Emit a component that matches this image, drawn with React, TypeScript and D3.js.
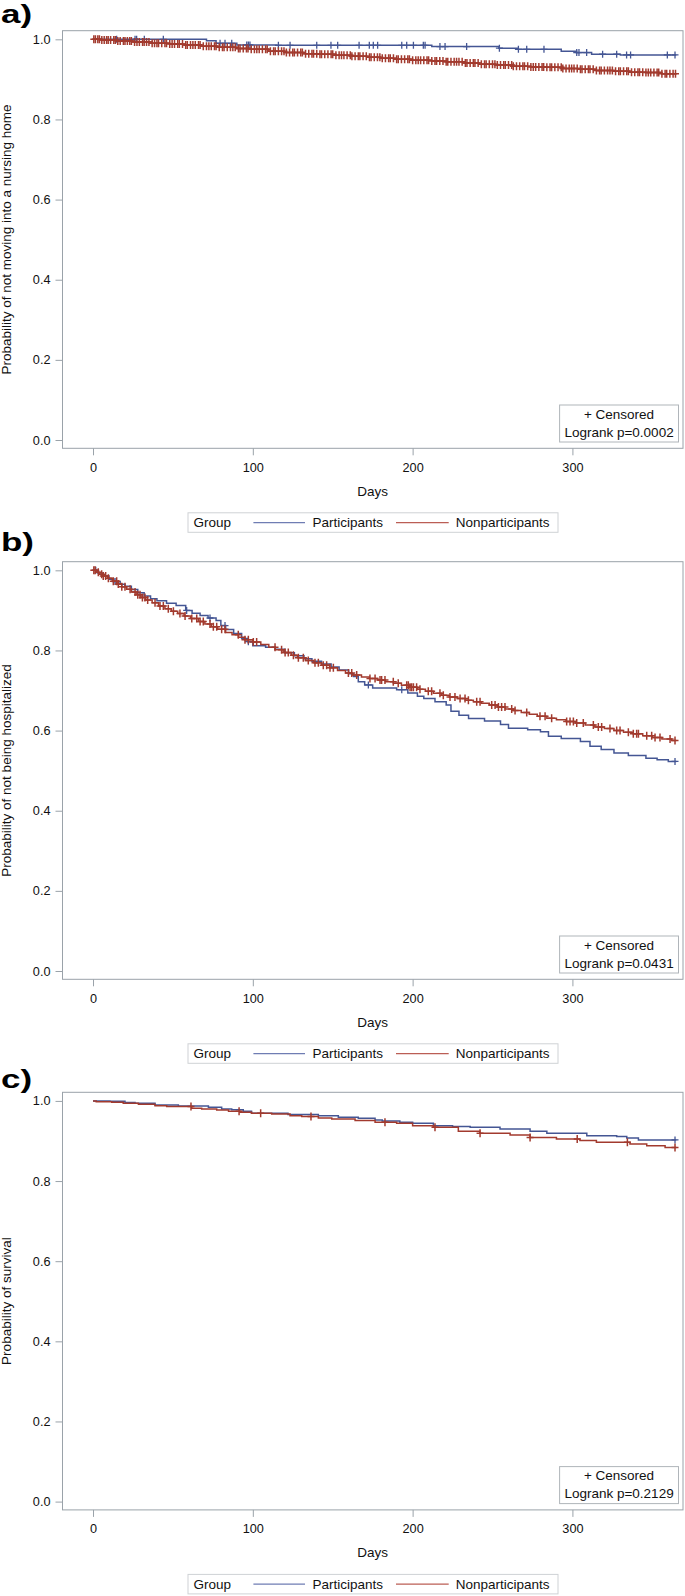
import React, { useRef, useEffect } from 'react';
import * as d3 from 'd3';

// ---- data ----

const FOLLOW_UP_END = 365;

const xTicks = [0, 100, 200, 300];
const yTicks = [0, 0.2, 0.4, 0.6, 0.8, 1.0];
const groups = ['Participants', 'Nonparticipants'];
const groupColors = ['#445694', '#A23A2E'];
const legendColors = ['#6f7db3', '#bb5e55'];

const panelLetters = ['a)', 'b)', 'c)'];
const yLabels = [
  'Probability of not moving into a nursing home',
  'Probability of not being hospitalized',
  'Probability of survival',
];
const logrankP = ['0.0002', '0.0431', '0.2129'];

// a) nursing home – [day, survival] at each step
const nursingParticipants = [
  [0, 1.0], [71, 0.9965], [77, 0.99], [90, 0.986], [115, 0.985], [212, 0.982],
  [254, 0.978], [266, 0.975], [293, 0.97], [302.6, 0.967], [312, 0.963], [330, 0.961],
];
const nursingNonparticipants = [
  [0, 1.0], [5, 0.998], [15, 0.996], [25, 0.993], [37, 0.99], [48, 0.988], [57, 0.986],
  [68, 0.983], [78, 0.98], [90, 0.977], [99, 0.975], [110, 0.97], [120, 0.967],
  [132, 0.964], [141, 0.963], [152, 0.96], [162, 0.958], [172, 0.955], [180, 0.953],
  [190, 0.95], [200, 0.948], [212, 0.946], [221, 0.944], [232, 0.941], [242, 0.938],
  [252, 0.936], [263, 0.933], [274, 0.931], [284, 0.93], [294, 0.927], [305, 0.925],
  [315, 0.922], [326, 0.92], [336, 0.918], [346, 0.917], [356, 0.914],
];
const nursingParticipantsCensored = [
  14.8, 26.3, 27.3, 32.1, 44, 79.5, 82.6, 86.8, 96.2, 97.2, 98.2, 116, 123.3, 140,
  148.9, 153.1, 166.5, 172.9, 175.4, 178.1, 193.2, 196.3, 200.5, 206.7, 207.8, 217.1,
  220.3, 233.8, 254.3, 266.2, 271.4, 282.2, 302.7, 304.1, 308.9, 318.9, 327.7, 333.9,
  336.4, 359.4, 364.2,
];
const nursingNonparticipantsCensored = [
  0.5, 1.5, 3, 4, 5.5, 7, 8.5, 9.5, 11, 13, 14, 15.5, 17, 19, 20, 21.5, 23, 24, 26, 27.5,
  29, 31, 32, 33.5, 35, 37, 38.5, 40, 41, 43, 45, 46, 48, 49.5, 51, 53, 54, 56, 58, 59,
  61, 62.5, 64, 66, 67, 69, 71, 72.5, 74, 76, 77, 79, 81, 82, 84, 86, 87.5, 89, 91, 92,
  94, 96, 97, 99, 101, 102.5, 104, 106, 108, 109, 111, 113, 114, 116, 118, 119.5, 121,
  123, 125, 126, 128, 130, 131, 133, 135, 137, 138, 140, 142, 143, 145, 147, 149, 150,
  152, 154, 155.5, 157, 159, 161, 162, 164, 166, 167, 169, 171, 173, 174, 176, 178,
  179.5, 181, 183, 185, 186, 188, 190, 191, 193, 195, 197, 198, 200, 202, 203.5, 205,
  207, 209, 210, 212, 214, 215, 217, 219, 221, 222, 224, 226, 227.5, 229, 231, 233, 234,
  236, 238, 239, 241, 243, 245, 246, 248, 250, 251.5, 253, 255, 257, 258, 260, 262, 263,
  265, 267, 269, 270, 272, 274, 275.5, 277, 279, 281, 282, 284, 286, 287, 289, 291, 293,
  294, 296, 298, 299.5, 301, 303, 305, 306, 308, 310, 311, 313, 315, 317, 318, 320, 322,
  323.5, 325, 327, 329, 330, 332, 334, 335, 337, 339, 341, 342, 344, 346, 347.5, 349,
  351, 353, 354, 356, 358, 359, 361, 363, 364.5,
];

// b) hospitalization
const hospParticipants = [
  [0, 1.0], [3, 0.993], [6, 0.986], [10, 0.978], [13, 0.972], [17, 0.965], [20, 0.96],
  [24, 0.952], [28, 0.944], [32, 0.936], [36, 0.929], [40, 0.924], [46, 0.918],
  [52, 0.912], [58, 0.9], [62, 0.893], [67, 0.887], [72, 0.881], [77, 0.875], [80, 0.862],
  [83, 0.852], [88, 0.842], [93, 0.83], [97, 0.822], [100, 0.812], [108, 0.808],
  [114, 0.803], [120, 0.794], [126, 0.787], [132, 0.779], [137, 0.773], [143, 0.766],
  [149, 0.759], [154, 0.751], [160, 0.742], [163, 0.735], [166, 0.722], [170, 0.714],
  [175, 0.706], [190, 0.702], [197, 0.694], [203, 0.686], [207, 0.68], [214, 0.672],
  [221, 0.664], [224, 0.648], [229, 0.638], [235, 0.63], [245, 0.624], [255, 0.615],
  [260, 0.606], [272, 0.602], [280, 0.597], [285, 0.586], [293, 0.58], [305, 0.573],
  [311, 0.561], [318, 0.553], [326, 0.544], [335, 0.538], [346, 0.531], [353, 0.527],
  [360, 0.523],
];
const hospNonparticipants = [
  [0, 1.0], [2, 0.995], [4, 0.99], [6, 0.986], [9, 0.98], [12, 0.973], [15, 0.966],
  [18, 0.959], [21, 0.953], [24, 0.946], [27, 0.939], [30, 0.932], [33, 0.926],
  [37, 0.919], [41, 0.911], [45, 0.904], [49, 0.898], [53, 0.892], [57, 0.886],
  [61, 0.88], [66, 0.872], [70, 0.866], [74, 0.859], [78, 0.853], [83, 0.845],
  [87, 0.839], [91, 0.833], [95, 0.827], [100, 0.821], [105, 0.815], [110, 0.808],
  [114, 0.802], [119, 0.795], [124, 0.788], [128, 0.782], [133, 0.775], [138, 0.769],
  [143, 0.763], [148, 0.757], [153, 0.75], [158, 0.744], [162, 0.739], [168, 0.734],
  [173, 0.73], [178, 0.726], [183, 0.722], [188, 0.718], [193, 0.713], [198, 0.708],
  [203, 0.703], [208, 0.698], [213, 0.693], [218, 0.688], [223, 0.684], [228, 0.68],
  [233, 0.676], [238, 0.672], [243, 0.668], [248, 0.664], [253, 0.659], [258, 0.654],
  [263, 0.65], [268, 0.645], [273, 0.641], [278, 0.636], [284, 0.631], [290, 0.627],
  [296, 0.623], [302, 0.619], [308, 0.614], [314, 0.609], [320, 0.605], [326, 0.6],
  [332, 0.596], [338, 0.592], [344, 0.587], [350, 0.583], [356, 0.579], [362, 0.575],
];
const hospParticipantsCensored = [1.7, 13.8, 58.6, 73.2, 82.6, 97.2, 172.3, 193.2, 364.2];
const hospNonparticipantsCensored = [
  0.5, 1.3, 3.3, 5.4, 6.4, 7.9, 9.6, 12.7, 14.8, 15.8, 18, 20, 23.2, 26.3, 28, 29.4,
  30.9, 32.5, 34.2, 38.8, 41.9, 44, 47.1, 50.3, 54.4, 57.6, 61.8, 64.9, 67, 69, 73.2,
  75.3, 77.4, 80.5, 82.6, 90.9, 95.1, 97.2, 100.3, 102.4, 113.9, 118, 120.2, 122.2,
  125.4, 128.5, 131.6, 134.7, 138.9, 141, 144.1, 146.2, 148.3, 150.4, 159.8, 161.9, 165,
  173.3, 176.5, 179.6, 180.6, 182.7, 187.9, 191, 196.3, 197.3, 198.4, 199.4, 200.5,
  202.5, 204.6, 209.8, 211.9, 217.1, 219.2, 223.4, 226.5, 229.7, 232.8, 234.9, 240.1,
  242.2, 249.5, 251.6, 253.7, 255.7, 257.8, 262, 264.1, 271.4, 279.7, 282.9, 287, 296.4,
  298.5, 300.6, 302.7, 306.8, 313.1, 316.2, 318.3, 323.5, 327.7, 329.8, 335, 338.1,
  340.2, 341.3, 346.5, 349.6, 351.7, 354.8, 361.1, 364.2,
];

// c) survival
const survParticipants = [
  [0, 1.0], [10.6, 0.999], [20, 0.996], [26.3, 0.994], [38.8, 0.99], [53.4, 0.987],
  [72.2, 0.984], [80.5, 0.98], [86.8, 0.978], [94, 0.974], [99.2, 0.969], [122, 0.966],
  [141, 0.963], [153.5, 0.959], [166, 0.957], [176.5, 0.9525], [181, 0.95], [192, 0.947],
  [200, 0.944], [213, 0.938], [225, 0.936], [236, 0.934], [254.7, 0.93], [273.5, 0.924],
  [284, 0.919], [309, 0.913], [327.7, 0.911], [334, 0.9075], [341.3, 0.9026],
];
const survNonparticipants = [
  [0, 1.0], [2, 0.998], [11.7, 0.9967], [18.9, 0.994], [28.4, 0.9917], [38.8, 0.988],
  [46.1, 0.9858], [61.8, 0.9817], [68, 0.98], [77.4, 0.9775], [84.8, 0.974], [92, 0.9717],
  [99.2, 0.969], [111.8, 0.9675], [123.3, 0.963], [130.6, 0.961], [141, 0.9575],
  [149.4, 0.955], [164, 0.951], [176.5, 0.947], [190, 0.944], [200, 0.938], [213, 0.934],
  [228.6, 0.924], [242, 0.919], [261, 0.915], [273.5, 0.909], [290, 0.905], [304.7, 0.901],
  [315, 0.897], [336, 0.8926], [346.5, 0.888], [358, 0.884],
];
const survParticipantsCensored = [364.2];
const survNonparticipantsCensored = [
  61.3, 91.4, 104.9, 136.4, 182.7, 214, 242.2, 273.5, 303, 334.4, 364.2,
];

const panels = [
  { curves: [nursingParticipants, nursingNonparticipants], censored: [nursingParticipantsCensored, nursingNonparticipantsCensored] },
  { curves: [hospParticipants, hospNonparticipants], censored: [hospParticipantsCensored, hospNonparticipantsCensored] },
  { curves: [survParticipants, survNonparticipants], censored: [survParticipantsCensored, survNonparticipantsCensored] },
];

// ---- layout ----
const W = 685;
const H = 1596;
const FRAME_LEFT = 62.5;
const FRAME_RIGHT = 683;
const FRAME_H = 417.6;
const PANEL_TOP = [30.7, 561.7, 1092.3];
const LETTER_BASELINE = [23, 551, 1088];
const AXIS_COLOR = '#9aa2a9';
const TEXT_COLOR = '#111';
const FONT = '"Liberation Sans", Arial, sans-serif';

const survivalAt = (steps, t) => {
  let s = steps[0][1];
  for (const [d, v] of steps) {
    if (d <= t) s = v;
    else break;
  }
  return s;
};

const App = () => {
  const svgRef = useRef(null);

  useEffect(() => {
    const svg = d3.select(svgRef.current);
    svg.selectAll('*').remove();

    panels.forEach((panel, i) => {
      const top = PANEL_TOP[i];
      const bottom = top + FRAME_H;
      const x = d3.scaleLinear().domain([-19.1, 369.2]).range([FRAME_LEFT, FRAME_RIGHT]);
      const y = d3.scaleLinear().domain([-0.0207, 1.0215]).range([bottom, top]);
      const g = svg.append('g');

      // panel letter
      g.append('text')
        .attr('transform', `translate(1,${LETTER_BASELINE[i]}) scale(1.4,1)`)
        .attr('font-family', FONT)
        .attr('font-weight', 700)
        .attr('font-size', 25)
        .attr('fill', '#000')
        .text(panelLetters[i]);

      // axes
      const yAxis = d3.axisLeft(y)
        .tickValues(yTicks)
        .tickFormat(d3.format('.1f'))
        .tickSize(7)
        .tickPadding(5);
      const xAxis = d3.axisBottom(x)
        .tickValues(xTicks)
        .tickFormat(d3.format('d'))
        .tickSize(7)
        .tickPadding(7.5);

      const styleAxis = (a) => {
        a.select('.domain').remove();
        a.selectAll('.tick line').attr('stroke', AXIS_COLOR);
        a.selectAll('.tick text')
          .attr('fill', TEXT_COLOR)
          .attr('font-family', FONT)
          .attr('font-size', 12.7);
      };

      g.append('g')
        .attr('transform', `translate(${FRAME_LEFT},0)`)
        .call(yAxis)
        .call(styleAxis);
      g.append('g')
        .attr('transform', `translate(0,${bottom})`)
        .call(xAxis)
        .call(styleAxis);

      // frame
      g.append('rect')
        .attr('x', FRAME_LEFT)
        .attr('y', top)
        .attr('width', FRAME_RIGHT - FRAME_LEFT)
        .attr('height', FRAME_H)
        .attr('fill', 'none')
        .attr('stroke', AXIS_COLOR)
        .attr('stroke-width', 1);

      // axis labels
      g.append('text')
        .attr('transform', `translate(11,${(top + bottom) / 2}) rotate(-90)`)
        .attr('text-anchor', 'middle')
        .attr('font-family', FONT)
        .attr('font-size', 13.5)
        .attr('fill', TEXT_COLOR)
        .text(yLabels[i]);

      g.append('text')
        .attr('x', (FRAME_LEFT + FRAME_RIGHT) / 2)
        .attr('y', bottom + 47.4)
        .attr('text-anchor', 'middle')
        .attr('font-family', FONT)
        .attr('font-size', 13.5)
        .attr('fill', TEXT_COLOR)
        .text('Days');

      // survival curves
      const line = d3.line()
        .x(d => x(d[0]))
        .y(d => y(d[1]))
        .curve(d3.curveStepAfter);

      panel.curves.forEach((steps, k) => {
        const pts = [...steps, [FOLLOW_UP_END, steps[steps.length - 1][1]]];
        g.append('path')
          .attr('d', line(pts))
          .attr('fill', 'none')
          .attr('stroke', groupColors[k])
          .attr('stroke-width', 1.5);

        const arm = k === 1 ? 4 : 3.5;
        g.selectAll(null)
          .data(panel.censored[k])
          .enter()
          .append('path')
          .attr('d', t => {
            const cx = x(t);
            const cy = y(survivalAt(steps, t));
            return `M${cx - 3.5},${cy}H${cx + 3.5}M${cx},${cy - arm}V${cy + arm}`;
          })
          .attr('stroke', groupColors[k])
          .attr('stroke-width', k === 1 ? 1.5 : 1.3)
          .attr('fill', 'none');
      });

      // inset: censored + logrank
      const insetX0 = 559.6;
      const insetX1 = 678.5;
      g.append('rect')
        .attr('x', insetX0)
        .attr('y', bottom - 43.3)
        .attr('width', insetX1 - insetX0)
        .attr('height', 37)
        .attr('fill', '#fff')
        .attr('stroke', '#b0b5ba');
      g.append('text')
        .attr('x', (insetX0 + insetX1) / 2)
        .attr('y', bottom - 29.6)
        .attr('text-anchor', 'middle')
        .attr('font-family', FONT)
        .attr('font-size', 13.5)
        .attr('fill', TEXT_COLOR)
        .text('+ Censored');
      g.append('text')
        .attr('x', (insetX0 + insetX1) / 2)
        .attr('y', bottom - 11.6)
        .attr('text-anchor', 'middle')
        .attr('font-family', FONT)
        .attr('font-size', 13.5)
        .attr('fill', TEXT_COLOR)
        .text(`Logrank p=${logrankP[i]}`);

      // legend
      const legTop = bottom + 64.5;
      const leg = g.append('g');
      leg.append('rect')
        .attr('x', 188)
        .attr('y', legTop)
        .attr('width', 370)
        .attr('height', 19.5)
        .attr('fill', '#fff')
        .attr('stroke', '#cfd2d5');
      const legText = (tx, label) => leg.append('text')
        .attr('x', tx)
        .attr('y', legTop + 14.5)
        .attr('font-family', FONT)
        .attr('font-size', 13.5)
        .attr('fill', TEXT_COLOR)
        .text(label);
      legText(193.5, 'Group');
      const entries = [[253.4, 305, 312.4], [396, 448.7, 455.7]];
      entries.forEach(([l0, l1, tx], k) => {
        leg.append('line')
          .attr('x1', l0)
          .attr('x2', l1)
          .attr('y1', legTop + 9.75)
          .attr('y2', legTop + 9.75)
          .attr('stroke', legendColors[k])
          .attr('stroke-width', 1.3);
        legText(tx, groups[k]);
      });
    });
  }, []);

  return (
    <svg
      ref={svgRef}
      width={W}
      height={H}
      style={{ position: 'absolute', left: 0, top: 0, background: '#fff' }}
    />
  );
};

export default App;
